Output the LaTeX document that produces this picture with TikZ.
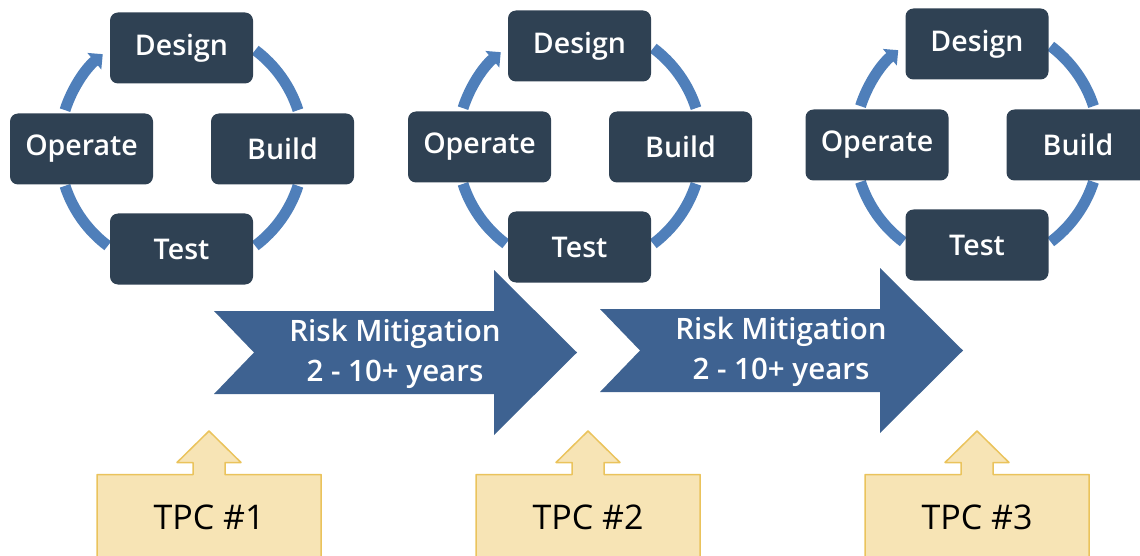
\documentclass[tikz,border=0pt]{standalone}
\usepackage{fontspec}
\setmainfont{Open Sans}
\IfFontExistsTF{Open Sans SemiBold}{\newfontfamily\semi{Open Sans SemiBold}}{%
	\IfFontExistsTF{Open Sans Semibold}{\newfontfamily\semi{Open Sans Semibold}}{\newfontfamily\semi{Open Sans}[FakeBold=0.9]}}
\usetikzlibrary{arrows.meta,calc}
\definecolor{slate}{HTML}{2F4153}
\definecolor{ringblue}{HTML}{4F7FBA}
\definecolor{riskblue}{HTML}{3E6291}
\definecolor{tpcfill}{HTML}{F7E4B5}
\definecolor{tpcline}{HTML}{EAC35C}
\tikzset{
	stage/.style={fill=slate,rounded corners=8pt,minimum width=143pt,minimum height=71pt,inner sep=0pt,text=white,font=\semi\fontsize{28.5}{34}\selectfont},
	ring/.style={draw=ringblue,line width=11pt,line cap=butt},
	risktext/.style={text=white,align=center,font=\semi\fontsize{29.5}{40}\selectfont},
	tpc/.style={fill=tpcfill,draw=tpcline,line width=1.5pt},
	tpctext/.style={font=\fontsize{34}{40}\selectfont}
}
\begin{document}
\begin{tikzpicture}[line join=round,x=1pt,y=-1pt]
		\clip (0,0) rectangle (1140,556);
		\foreach \i/\cx/\cy in {1/181.5/148,2/579.5/146,3/977/144}{
			\coordinate (c\i) at (\cx,\cy);
			\draw[ring] ($(c\i)+(-53:122.5)$) arc[start angle=-53,end angle=-18,radius=122.5];
			\draw[ring] ($(c\i)+(18:122.5)$) arc[start angle=18,end angle=53,radius=122.5];
			\draw[ring] ($(c\i)+(127:122.5)$) arc[start angle=127,end angle=162,radius=122.5];
			\draw[ring,-{Triangle[length=11pt,width=21pt]}] ($(c\i)+(198:122.5)$) arc[start angle=198,end angle=230,radius=122.5];
			\node[stage] (d\i) at ($(c\i)+(0,-100)$) {Design};
			\node[stage] (b\i) at ($(c\i)+(101,1)$) {Build};
			\node[stage] (t\i) at ($(c\i)+(0,101)$) {Test};
			\node[stage] (o\i) at ($(c\i)+(-100,1)$) {Operate};
		}
		\foreach \i/\dx/\dy in {1/0/0,2/386/-2}{
			\fill[riskblue,shift={(\dx,\dy)}] (214,311) -- (494,311) -- (494,270) -- (577,352.5) -- (494,435) -- (494,394) -- (214,394) -- (254,352.5) -- cycle;
			\node[risktext] (r\i) at (395+\dx,354+\dy) {Risk Mitigation\\2 - 10+ years};
		}
		\foreach \i/\tx in {1/209,2/588,3/977}{
			\draw[tpc] (\tx-112,560) -- (\tx-112,474.5) -- (\tx-16,474.5) -- (\tx-16,462.5) -- (\tx-32,462.5) -- (\tx,431) -- (\tx+32,462.5) -- (\tx+16,462.5) -- (\tx+16,474.5) -- (\tx+112,474.5) -- (\tx+112,560) -- cycle;
			\node[tpctext] (p\i) at (\tx,517) {TPC \#\i};
		}
\end{tikzpicture}
\end{document}
